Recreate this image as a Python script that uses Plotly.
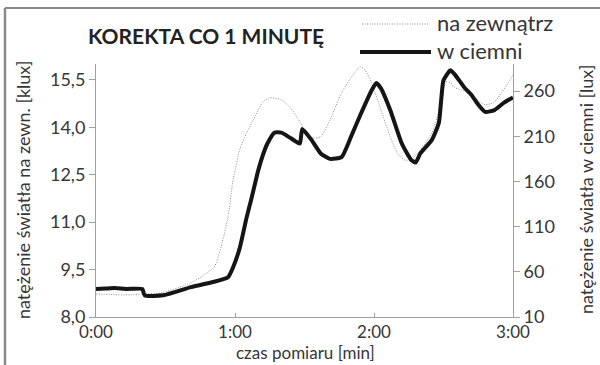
import plotly.graph_objects as go

# time in seconds, outside light (klux) - thin dotted
t_out = [0, 6, 15, 20, 28, 41, 51, 54, 57, 59, 62, 65, 69, 72, 75, 80, 84, 88, 91, 94, 97,
         101, 106, 110, 114, 116, 119, 123, 127, 130, 133, 136, 140, 145, 149, 151, 153, 155,
         160, 164, 168, 172, 175, 178, 180]
v_out = [8.73, 8.71, 8.70, 8.73, 8.76, 9.08, 9.58, 10.22, 11.16, 12.24, 13.28, 13.82, 14.39,
         14.80, 14.93, 14.87, 14.61, 14.17, 13.76, 13.66, 13.70, 14.23, 15.09, 15.56, 15.91,
         15.82, 15.41, 14.55, 13.70, 13.19, 12.97, 12.97, 13.28, 13.82, 14.77, 15.44, 15.41,
         15.25, 15.12, 14.87, 14.71, 14.80, 15.09, 15.41, 15.66]

# time in seconds, dark room light (lux) - thick black
t_dark = [0, 4, 8, 13, 20, 21, 29, 41, 51, 55, 57, 59, 62, 65, 67, 70, 72, 74, 77, 80, 84, 88,
          89, 93, 97, 101, 106, 110, 114, 119, 121, 123, 127, 132, 136, 138, 140, 145, 148,
          149, 150, 153, 155, 159, 162, 165, 168, 172, 176, 180]
v_dark = [41, 41.5, 42, 41, 41, 34, 34, 43, 49, 52, 54, 64, 86, 120, 140, 172, 189, 202, 214,
          214, 208, 202, 218, 206, 191, 185, 187, 209, 233, 261, 269, 263, 239, 202, 184, 181,
          191, 206, 225, 250, 272, 283, 278, 264, 256, 245, 237, 239, 247, 253]

x_tickvals = [0, 60, 120, 180]
x_ticktext = ["0:00", "1:00", "2:00", "3:00"]

FONT = "Lato"
TXT = "#363636"
AX = "#a0a0a0"
DOT = "1px,1.5px"

fig = go.Figure()
fig.add_trace(go.Scatter(x=t_out, y=v_out, mode="lines", name="na zewnątrz",
                         line=dict(color="#8f8f8f", width=1, dash=DOT, shape="spline", smoothing=0.6),
                         yaxis="y"))
fig.add_trace(go.Scatter(x=t_dark, y=v_dark, mode="lines", name="w ciemni",
                         line=dict(color="#151515", width=4, shape="spline", smoothing=0.5),
                         yaxis="y2"))

fig.update_layout(
    width=600, height=365,
    margin=dict(l=96, r=87, t=64, b=48),
    paper_bgcolor="white", plot_bgcolor="white",
    showlegend=False,
    separators=", ",
    font=dict(family=FONT, color=TXT, size=16),
    xaxis=dict(range=[0, 180], tickvals=x_tickvals, ticktext=x_ticktext,
               showgrid=False, zeroline=False, showline=True, linecolor=AX, linewidth=1,
               ticks="inside", ticklen=4, tickcolor=AX,
               tickfont=dict(family=FONT, size=17, color=TXT)),
    yaxis=dict(range=[8, 16], tick0=8, dtick=1.5, tickformat=".1f",
               showgrid=False, zeroline=False, showline=True, linecolor=AX, linewidth=1,
               ticks="outside", ticklen=6, tickcolor=AX,
               tickfont=dict(family=FONT, size=18, color=TXT)),
    yaxis2=dict(range=[10, 290], tick0=10, dtick=50, overlaying="y", side="right",
                showgrid=False, zeroline=False, showline=True, linecolor=AX, linewidth=1,
                ticks="outside", ticklen=6, tickcolor=AX,
                tickfont=dict(family=FONT, size=18, color=TXT)),
)

W, H = 417.0, 253.0
def px(x):
    return (x - 96) / W
def py(y):
    return (317 - y) / H

shapes = [
    # frame lines
    dict(type="line", xref="paper", yref="paper", x0=px(5), x1=px(620), y0=py(8), y1=py(8),
         line=dict(color="#8a8a8a", width=2)),
    dict(type="line", xref="paper", yref="paper", x0=px(5), x1=px(5), y0=py(8), y1=py(380),
         line=dict(color="#8a8a8a", width=2.5)),
    # legend samples
    dict(type="line", xref="paper", yref="paper", x0=px(362), x1=px(429), y0=py(24), y1=py(24),
         line=dict(color="#8f8f8f", width=1, dash=DOT)),
    dict(type="line", xref="paper", yref="paper", x0=px(360), x1=px(431), y0=py(52), y1=py(52),
         line=dict(color="#151515", width=4)),
]

annotations = [
    dict(text="<b>KOREKTA CO 1 MINUTĘ</b>", xref="paper", yref="paper", x=px(86), y=py(36),
         xanchor="left", yanchor="middle", showarrow=False,
         font=dict(family=FONT, size=21, color="#222")),
    dict(text="na zewnątrz", xref="paper", yref="paper", x=px(435), y=py(22),
         xanchor="left", yanchor="middle", showarrow=False,
         font=dict(family=FONT, size=22, color=TXT)),
    dict(text="w ciemni", xref="paper", yref="paper", x=px(435), y=py(50),
         xanchor="left", yanchor="middle", showarrow=False,
         font=dict(family=FONT, size=22, color=TXT)),
    dict(text="natężenie światła na zewn. [klux]", xref="paper", yref="paper", x=px(23), y=py(190),
         xanchor="center", yanchor="middle", textangle=-90, showarrow=False,
         font=dict(family=FONT, size=18, color=TXT)),
    dict(text="natężenie światła w ciemni [lux]", xref="paper", yref="paper", x=px(586), y=py(190),
         xanchor="center", yanchor="middle", textangle=-90, showarrow=False,
         font=dict(family=FONT, size=18, color=TXT)),
    dict(text="czas pomiaru [min]", xref="paper", yref="paper", x=px(305), y=py(365),
         xanchor="center", yanchor="bottom", showarrow=False,
         font=dict(family=FONT, size=17, color=TXT)),
]
fig.update_layout(shapes=shapes, annotations=annotations)

fig.write_html("out.html")
